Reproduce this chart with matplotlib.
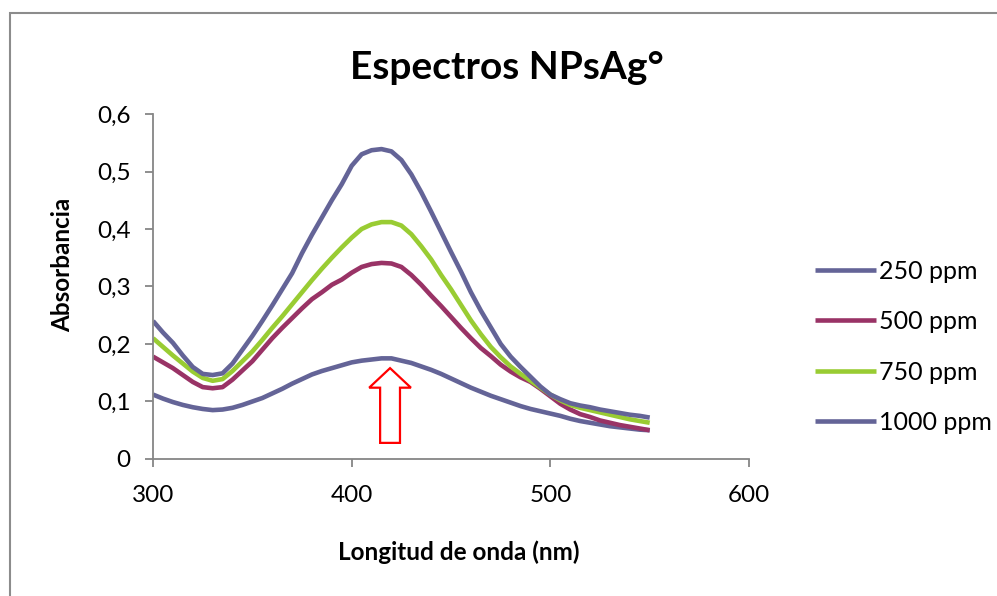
import matplotlib
matplotlib.use('Agg')
import matplotlib.pyplot as plt
from matplotlib.patches import Rectangle

plt.rcParams['font.family'] = ['Lato', 'DejaVu Sans']

# wavelengths (nm) and absorbance
wavelength = [300, 305, 310, 315, 320, 325, 330, 335, 340, 345, 350, 355, 360,
              365, 370, 375, 380, 385, 390, 395, 400, 405, 410, 415, 420, 425,
              430, 435, 440, 445, 450, 455, 460, 465, 470, 475, 480, 485, 490,
              495, 500, 505, 510, 515, 520, 525, 530, 535, 540, 545, 550]

abs_250 = [0.112, 0.105, 0.099, 0.094, 0.090, 0.087, 0.085, 0.086, 0.089, 0.094,
           0.100, 0.106, 0.114, 0.122, 0.131, 0.139, 0.147, 0.153, 0.158, 0.163,
           0.168, 0.171, 0.173, 0.175, 0.175, 0.171, 0.167, 0.161, 0.155, 0.148,
           0.140, 0.132, 0.124, 0.117, 0.110, 0.104, 0.098, 0.092, 0.087, 0.083,
           0.079, 0.075, 0.070, 0.066, 0.063, 0.060, 0.057, 0.055, 0.053, 0.051,
           0.050]
abs_500 = [0.178, 0.168, 0.158, 0.146, 0.134, 0.125, 0.123, 0.125, 0.138, 0.154,
           0.170, 0.190, 0.210, 0.228, 0.245, 0.262, 0.278, 0.290, 0.303, 0.312,
           0.324, 0.334, 0.339, 0.341, 0.340, 0.334, 0.320, 0.303, 0.284, 0.266,
           0.247, 0.228, 0.210, 0.193, 0.179, 0.164, 0.152, 0.142, 0.134, 0.122,
           0.109, 0.096, 0.086, 0.078, 0.073, 0.067, 0.063, 0.059, 0.056, 0.053,
           0.050]
abs_750 = [0.210, 0.195, 0.180, 0.166, 0.152, 0.141, 0.136, 0.139, 0.153, 0.170,
           0.187, 0.207, 0.228, 0.248, 0.269, 0.290, 0.311, 0.331, 0.350, 0.368,
           0.385, 0.400, 0.408, 0.412, 0.412, 0.406, 0.391, 0.370, 0.347, 0.320,
           0.295, 0.268, 0.241, 0.217, 0.195, 0.177, 0.161, 0.148, 0.136, 0.124,
           0.112, 0.102, 0.094, 0.089, 0.085, 0.081, 0.077, 0.073, 0.069, 0.066,
           0.063]
abs_1000 = [0.240, 0.220, 0.202, 0.180, 0.160, 0.148, 0.146, 0.149, 0.166, 0.190,
            0.214, 0.240, 0.267, 0.295, 0.323, 0.358, 0.390, 0.420, 0.450, 0.478,
            0.510, 0.530, 0.537, 0.539, 0.535, 0.520, 0.495, 0.464, 0.430, 0.395,
            0.360, 0.326, 0.290, 0.258, 0.229, 0.200, 0.178, 0.160, 0.143, 0.126,
            0.112, 0.104, 0.097, 0.093, 0.090, 0.086, 0.083, 0.080, 0.077, 0.075,
            0.072]

series_labels = ['250 ppm', '500 ppm', '750 ppm', '1000 ppm']
series_colors = ['#646497', '#993366', '#99CC33', '#646497']

x_ticks = [300, 400, 500, 600]
y_ticks = [0, 0.1, 0.2, 0.3, 0.4, 0.5, 0.6]
y_tick_labels = ['0', '0,1', '0,2', '0,3', '0,4', '0,5', '0,6']

fig = plt.figure(figsize=(9.97, 5.96), dpi=100)
ax = fig.add_axes([0.1535, 0.2299, 0.5978, 0.5788])

for vals, lab, col in zip([abs_250, abs_500, abs_750, abs_1000], series_labels, series_colors):
    ax.plot(wavelength, vals, color=col, lw=3.3, label=lab, solid_capstyle='butt')

# red hollow arrow pointing at the peak
ax.arrow(419.3, 0.028, 0, 0.130, width=10, head_width=21, head_length=0.034,
         length_includes_head=True, fc='white', ec='#FF0000', lw=1.6, zorder=4)

ax.set_xlim(300, 600)
ax.set_ylim(0, 0.6)
ax.set_xticks(x_ticks)
ax.set_yticks(y_ticks)
ax.set_yticklabels(y_tick_labels)

for side in ['top', 'right']:
    ax.spines[side].set_visible(False)
for side in ['left', 'bottom']:
    ax.spines[side].set_color('#868686')
    ax.spines[side].set_linewidth(1.3)

ax.tick_params(axis='both', colors='#868686', labelcolor='black', labelsize=17.5,
               length=6, width=1.3, direction='out')
ax.tick_params(axis='y', pad=10)
ax.tick_params(axis='x', pad=13)

fig.text(0.508, 0.886, 'Espectros NPsAg°', fontsize=28, fontweight='bold',
         ha='center', va='center')
ax.set_xlabel('Longitud de onda (nm)', fontsize=17.5, fontweight='bold')
ax.set_ylabel('Absorbancia', fontsize=17.5, fontweight='bold')
ax.xaxis.set_label_coords(0.513, -0.235)
ax.yaxis.set_label_coords(-0.133, 0.562)

fig.legend(loc='center left', bbox_to_anchor=(0.8175, 0.4178), frameon=False,
           fontsize=18, handlelength=2.45, handletextpad=0.1, labelspacing=1.1,
           borderpad=0, borderaxespad=0)

# chart-area border (clipped at right and bottom like the reference)
fig.patches.append(Rectangle((0.010, -0.1), 1.5, 1.078, transform=fig.transFigure,
                             fill=False, ec='#8C8C8C', lw=1.5))

fig.savefig('out.png', dpi=100)
